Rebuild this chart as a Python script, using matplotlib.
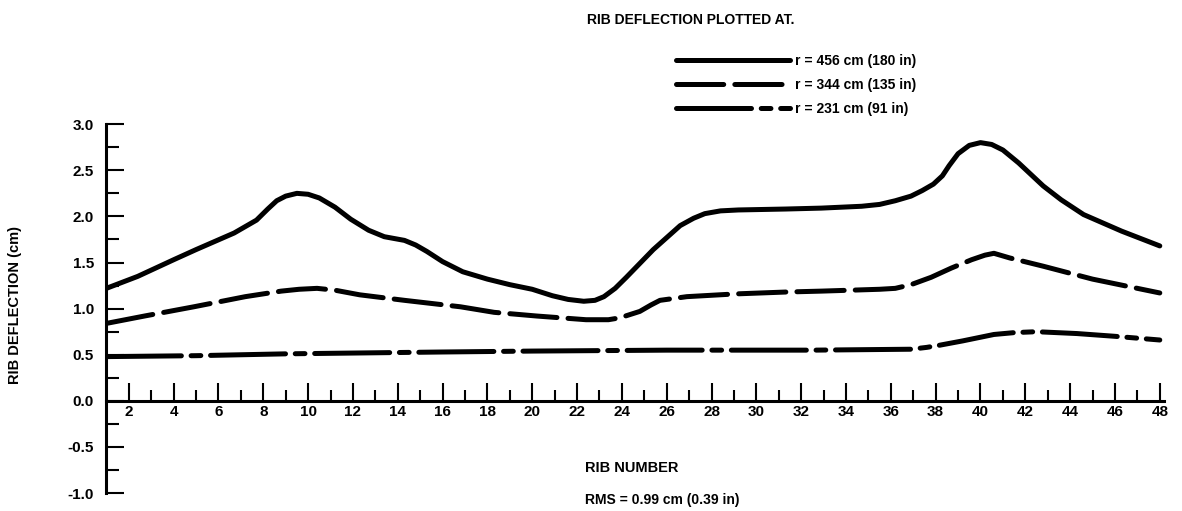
""" Rib deflection along the rib number at three radii """

import numpy as np
import matplotlib.pyplot as plt
from matplotlib.ticker import MultipleLocator, FixedLocator

plt.rcParams["font.family"] = ["Liberation Sans", "DejaVu Sans"]
plt.rcParams["font.weight"] = "bold"
plt.rcParams["lines.scale_dashes"] = False

# r = 456 cm (180 in)
rib_456 = [1, 2.4, 4, 5, 6.7, 7.7, 8.2, 8.6, 9.0, 9.5, 10.0, 10.5, 11.2, 11.9, 12.7, 13.4,
           14.3, 14.8, 15.3, 16, 16.9, 18, 19, 20, 20.9, 21.6, 22.3, 22.8, 23.2, 23.7, 24.2,
           25.4, 26.6, 27.2, 27.7, 28.4, 29.2, 31.3, 32.9, 34.7, 35.5, 36.2, 36.9, 37.4,
           37.9, 38.3, 38.6, 39.0, 39.5, 40.0, 40.5, 41.0, 41.7, 42.8, 43.6, 44.6, 46.3, 48]
defl_456 = [1.22, 1.35, 1.53, 1.64, 1.82, 1.96, 2.08, 2.17, 2.22, 2.25, 2.24, 2.20, 2.10,
            1.97, 1.85, 1.78, 1.74, 1.69, 1.62, 1.51, 1.40, 1.32, 1.26, 1.21, 1.14, 1.10,
            1.08, 1.09, 1.13, 1.22, 1.34, 1.64, 1.90, 1.98, 2.03, 2.06, 2.07, 2.08, 2.09,
            2.11, 2.13, 2.17, 2.22, 2.28, 2.35, 2.44, 2.55, 2.68, 2.77, 2.80, 2.78, 2.72,
            2.58, 2.33, 2.18, 2.02, 1.84, 1.68]

# r = 344 cm (135 in)
rib_344 = [1, 2.7, 4.9, 7.2, 8.8, 9.6, 10.4, 11.2, 12.3, 14.3, 16.8, 18.3, 20.2, 22.4, 23.4,
           23.9, 24.8, 25.3, 25.7, 26.9, 29.1, 31.3, 32.9, 35.5, 36.2, 36.9, 37.8, 38.7,
           39.6, 40.2, 40.6, 41.3, 42.8, 45, 48]
defl_344 = [0.84, 0.92, 1.02, 1.13, 1.19, 1.21, 1.22, 1.20, 1.15, 1.09, 1.02, 0.96, 0.92,
            0.88, 0.88, 0.90, 0.97, 1.04, 1.09, 1.13, 1.16, 1.18, 1.19, 1.21, 1.22, 1.26,
            1.34, 1.44, 1.53, 1.58, 1.60, 1.55, 1.46, 1.32, 1.17]

# r = 231 cm (91 in)
rib_231 = [1, 5, 9, 16, 20, 26, 32.5, 36.9, 37.6, 38.1, 39.2, 40.0, 40.6, 41.5, 42.5, 44.3,
           46, 48]
defl_231 = [0.48, 0.49, 0.51, 0.53, 0.54, 0.55, 0.55, 0.56, 0.58, 0.60, 0.65, 0.69, 0.72,
            0.74, 0.75, 0.73, 0.70, 0.66]

labels = ["r = 456 cm (180 in)", "r = 344 cm (135 in)", "r = 231 cm (91 in)"]

fig = plt.figure(figsize=(11.82, 5.11), dpi=100)
ax = fig.add_axes([0.090, 0.035, 0.895, 0.722])

lw = 3.6
l1, = ax.plot(rib_456, defl_456, color="black", lw=lw, solid_capstyle="round",
              solid_joinstyle="round")
l2, = ax.plot(rib_344, defl_344, color="black", lw=lw, linestyle=(0, (34, 8)),
              dash_capstyle="round", dash_joinstyle="round")
l3, = ax.plot(rib_231, defl_231, color="black", lw=lw, linestyle=(0, (54, 7, 7, 7)),
              dash_capstyle="round", dash_joinstyle="round")

ax.set_xlim(1, 48.2)
ax.set_ylim(-1, 3)
ax.spines["top"].set_visible(False)
ax.spines["right"].set_visible(False)
ax.spines["bottom"].set_position(("data", 0))
ax.spines["bottom"].set_linewidth(2.2)
ax.spines["left"].set_linewidth(2.2)

ax.xaxis.set_major_locator(FixedLocator(np.arange(2, 49, 2)))
ax.xaxis.set_minor_locator(FixedLocator(np.arange(3, 48, 2)))
ax.yaxis.set_major_locator(MultipleLocator(0.5))
ax.yaxis.set_minor_locator(MultipleLocator(0.25))
ax.tick_params(axis="x", which="major", direction="in", length=13, width=1.5, pad=3, labelsize=11)
ax.tick_params(axis="x", which="minor", direction="in", length=8, width=1.5)
ax.tick_params(axis="y", which="major", direction="in", length=13, width=1.5, pad=9, labelsize=11)
ax.tick_params(axis="y", which="minor", direction="in", length=9, width=1.5)
ax.set_yticklabels([f"{v:.1f}" for v in ax.get_yticks()])
for t in ax.get_xticklabels() + ax.get_yticklabels():
    t.set_fontweight("bold")

fig.text(691 / 1182, 1 - 20 / 511, "RIB DEFLECTION PLOTTED AT.", ha="center", va="center",
         fontsize=10, fontweight="bold")
fig.text(15 / 1182, 1 - 305 / 511, "RIB DEFLECTION (cm)", rotation=90, ha="center",
         va="center", fontsize=10.5, fontweight="bold")
fig.text(585 / 1182, 1 - 468 / 511, "RIB NUMBER", ha="left", va="center",
         fontsize=10.5, fontweight="bold")
fig.text(585 / 1182, 1 - 500 / 511, "RMS = 0.99 cm (0.39 in)", ha="left", va="center",
         fontsize=10, fontweight="bold")

fig.legend([l1, l2, l3], labels, loc="upper left", bbox_to_anchor=(664 / 1182, 1 - 41 / 511),
           frameon=False, handlelength=8.2, handletextpad=0.3, labelspacing=0.75,
           prop={"size": 10, "weight": "bold"})

fig.savefig("out.png", dpi=100)
plt.close(fig)
